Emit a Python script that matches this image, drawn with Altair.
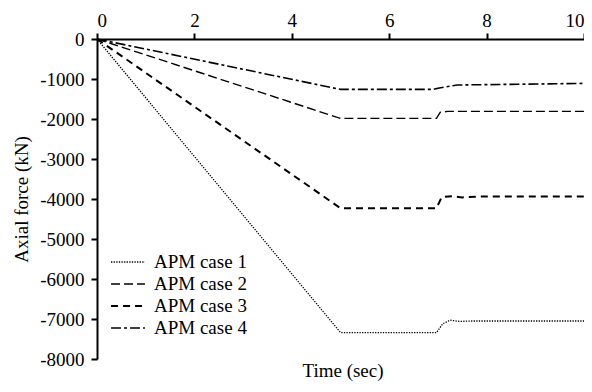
import altair as alt
import pandas as pd

cases = ["APM case 1", "APM case 2", "APM case 3", "APM case 4"]

t1 = [0, 5.0, 6.97, 7.1, 7.25, 7.45, 7.7, 10]
v1 = [0, -7340, -7340, -7120, -7030, -7060, -7050, -7050]

t2 = [0, 5.0, 6.97, 7.05, 7.2, 10]
v2 = [0, -1985, -1985, -1830, -1810, -1810]

t3 = [0, 5.0, 6.97, 7.08, 7.3, 7.5, 7.8, 10]
v3 = [0, -4230, -4230, -3950, -3930, -3960, -3940, -3940]

t4 = [0, 5.0, 6.9, 7.0, 7.4, 10]
v4 = [0, -1260, -1260, -1230, -1150, -1110]

xticks = [0, 2, 4, 6, 8, 10]
yticks = [-8000, -7000, -6000, -5000, -4000, -3000, -2000, -1000, 0]

dashes = [[1.3, 1.3], [9, 4], [7, 5], [10, 3, 3, 3]]
widths = [1.3, 1.4, 2.0, 1.6]

rows = []
for name, ts, vs in zip(cases, [t1, t2, t3, t4], [v1, v2, v3, v4]):
    for i, (t, v) in enumerate(zip(ts, vs)):
        rows.append({"case": name, "t": t, "v": v, "i": i})
df = pd.DataFrame(rows)

FONT = "Liberation Serif"
FS = 19

leg = alt.Legend(
    title=None, orient="none", legendX=13, legendY=213,
    symbolType="stroke", symbolSize=1150, symbolStrokeColor="black",
    clipHeight=20, rowPadding=2, padding=0, labelFont=FONT,
    labelFontSize=FS, labelColor="black", labelOffset=8,
)

axis_common = dict(
    grid=False, domainColor="black", domainWidth=2, tickColor="black",
    tickWidth=2, tickSize=6, labelFont=FONT, labelFontSize=FS, labelColor="black",
    titleFont=FONT, titleFontSize=FS, titleColor="black", titleFontWeight="normal",
)

lines = alt.Chart(df).mark_line(color="black").encode(
    x=alt.X("t:Q", scale=alt.Scale(domain=[0, 10], nice=False),
            axis=alt.Axis(orient="top", values=xticks, title=None, labelPadding=3,
                          **axis_common)),
    y=alt.Y("v:Q", scale=alt.Scale(domain=[-8000, 0], nice=False),
            axis=alt.Axis(values=yticks, title="Axial force (kN)",
                          labelExpr="datum.value + ''", labelPadding=7, titlePadding=8,
                          **axis_common)),
    strokeDash=alt.StrokeDash("case:N", scale=alt.Scale(domain=cases, range=dashes), legend=leg),
    strokeWidth=alt.StrokeWidth("case:N", scale=alt.Scale(type="ordinal", domain=cases, range=widths), legend=leg),
    order="i:Q",
)

xtitle = alt.Chart(pd.DataFrame({"label": ["Time (sec)"]})).mark_text(
    font=FONT, fontSize=FS, color="black", baseline="middle", align="center"
).encode(text="label:N", x=alt.value(246), y=alt.value(332))

chart = alt.layer(lines, xtitle).properties(
    width=487, height=320,
    autosize=alt.AutoSizeParams(type="none"),
    padding={"left": 89, "top": 31, "right": 0, "bottom": 25},
).configure_view(stroke=None)

chart.save("out.html", embed_options={"renderer": "svg", "actions": False})
